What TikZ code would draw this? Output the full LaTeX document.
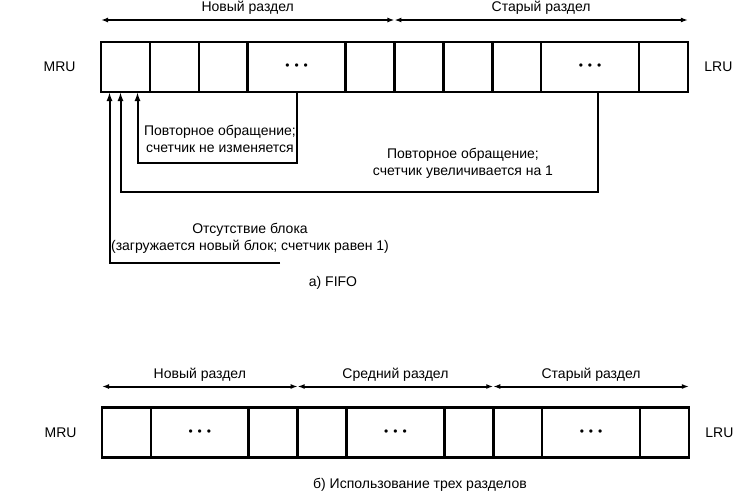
\documentclass[tikz,border=0pt]{standalone}
\usepackage{fontspec}
\setmainfont{Liberation Sans}
\usetikzlibrary{arrows.meta,positioning}

\newcommand{\threedots}{{\fontsize{12}{12}\selectfont\textbullet\hspace{5pt}\textbullet\hspace{5pt}\textbullet}}

\begin{document}
\begin{tikzpicture}[x=1pt, y=-1pt, font=\fontsize{14}{17}\selectfont]
\tikzstyle{cell} = [rectangle, draw, line width=2.6pt, minimum width=48.9pt, minimum height=50pt, inner sep=0pt, outer sep=0pt]
\tikzstyle{wide} = [cell, minimum width=97.8pt]
\tikzstyle{span} = [{Latex[length=7pt,width=5pt]}-{Latex[length=7pt,width=5pt]}, line width=2pt]
\tikzstyle{arrow} = [-{Latex[length=9pt,width=6pt]}, line width=2pt]
\useasboundingbox (0,0) rectangle (756,499);

% а) FIFO
\node[cell] (a1) at (125.5,67) {};
\node[cell, right=0pt of a1] (a2) {};
\node[cell, right=0pt of a2] (a3) {};
\node[wide, right=0pt of a3] (a4) {\threedots};
\node[cell, right=0pt of a4] (a5) {};
\node[cell, right=0pt of a5] (a6) {};
\node[cell, right=0pt of a6] (a7) {};
\node[cell, right=0pt of a7] (a8) {};
\node[wide, right=0pt of a8] (a9) {\threedots};
\node[cell, right=0pt of a9] (a10) {};
\node[left=22pt of a1] (mruA) {MRU};
\node[right=13pt of a10] (lruA) {LRU};

\draw[span] ([yshift=22pt]a1.north west) -- node[above=1pt] {Новый раздел} ([yshift=22pt]a6.north west);
\draw[span] ([yshift=22pt]a6.north west) -- node[above=1pt] {Старый раздел} ([yshift=22pt]a10.north east);

\draw[arrow] (a4.south) -- ++(0,71) -| ([xshift=12pt]a1.south);
\draw[arrow] ([xshift=8pt]a9.south) -- ++(0,100) -| ([xshift=-5pt]a1.south);
\coordinate (miss) at (280,263);
\draw[arrow] (miss) -| ([xshift=-16pt]a1.south);

\node[align=center] (hit1) at (220,138.5) {Повторное обращение;\\счетчик не изменяется};
\node[align=center] (hit2) at (463,163.5) {Повторное обращение;\\счетчик увеличивается на 1};
\node[align=center] (new) at (250,238.5) {Отсутствие блока\\(загружается новый блок; счетчик равен 1)};
\node (capA) at (333,283) {а) FIFO};

% б) три раздела
\node[cell] (b1) at (126.5,432.5) {};
\node[wide, right=0pt of b1] (b2) {\threedots};
\node[cell, right=0pt of b2] (b3) {};
\node[cell, right=0pt of b3] (b4) {};
\node[wide, right=0pt of b4] (b5) {\threedots};
\node[cell, right=0pt of b5] (b6) {};
\node[cell, right=0pt of b6] (b7) {};
\node[wide, right=0pt of b7] (b8) {\threedots};
\node[cell, right=0pt of b8] (b9) {};
\node[left=22pt of b1] (mruB) {MRU};
\node[right=13pt of b9] (lruB) {LRU};

\draw[span] ([yshift=21pt]b1.north west) -- node[above=1pt] {Новый раздел} ([yshift=21pt]b4.north west);
\draw[span] ([yshift=21pt]b4.north west) -- node[above=1pt] {Средний раздел} ([yshift=21pt]b7.north west);
\draw[span] ([yshift=21pt]b7.north west) -- node[above=1pt] {Старый раздел} ([yshift=21pt]b9.north east);

\node (capB) at (420,485) {б) Использование трех разделов};
\end{tikzpicture}
\end{document}
